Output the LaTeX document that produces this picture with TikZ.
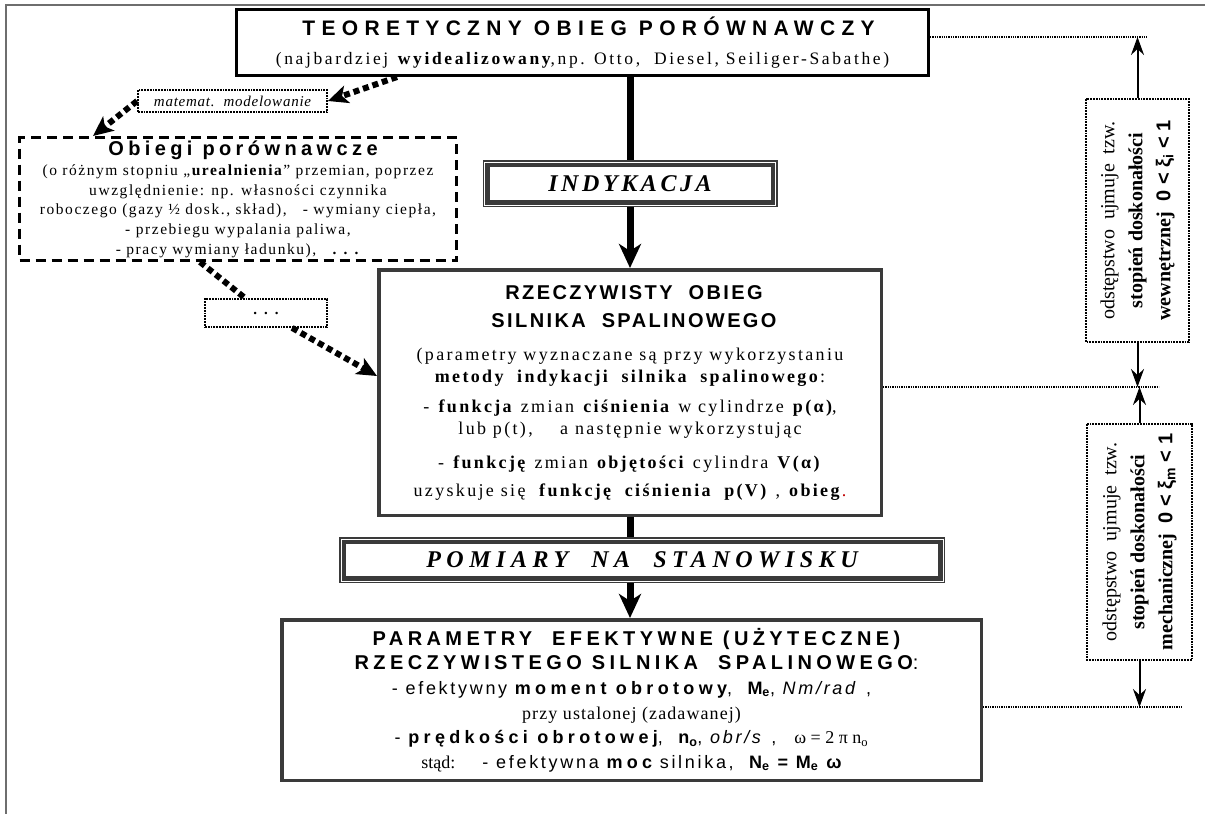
\documentclass[tikz,border=0pt]{standalone}
\usepackage{fontspec}
\setmainfont{Liberation Serif}
\setsansfont{Liberation Sans}
\newfontfamily\spsans[LetterSpace=12]{Liberation Sans}
\newfontfamily\spserif[LetterSpace=10]{Liberation Serif}
\usetikzlibrary{arrows.meta, positioning, calc}
\definecolor{dgray}{HTML}{3A3A3A}
\definecolor{framegray}{HTML}{6E6E6E}
\newcommand{\fsz}[2]{\fontsize{#1}{#2}\selectfont}
\newcommand{\ls}[1]{\addfontfeature{LetterSpace=#1}}

\begin{document}
\begin{tikzpicture}[x=1pt, y=-1pt,
  box/.style={draw=dgray, line width=3.5pt, align=center, inner sep=0pt},
  dashbox/.style={draw, line width=3pt, dash pattern=on 10pt off 6pt, align=center, inner sep=0pt},
  dotbox/.style={draw, line width=1.8pt, densely dotted, align=center, inner sep=0pt},
  band/.style={draw=dgray, line width=7pt, align=center, inner sep=0pt,
               font=\spserif\bfseries\itshape\fsz{24}{26}},
  stem/.style={line width=7pt},
  flow/.style={stem, -{Stealth[length=24pt, width=22pt, inset=7pt]}},
  trail/.style={line width=6pt, dash pattern=on 6pt off 4pt, -{Stealth[length=20pt, width=18pt, inset=5pt]}},
  guide/.style={line width=1.3pt, densely dotted},
  span/.style={line width=2pt, -{Stealth[length=18pt, width=13pt, inset=6pt]}}
]
\useasboundingbox (0,0) rectangle (1205,814);
\draw[framegray, line width=1.5pt] (1205,5) -- (6,5) -- (6,814);

% main column
\node[box, draw=black, line width=3pt, minimum width=692pt, minimum height=66pt,
      font=\fsz{17.5}{29}] (teo) at (582.5,42.5)
  {{\spsans\ls{30}\bfseries\fsz{21}{29} TEORETYCZNY OBIEG PORÓWNAWCZY}\\
   {\spserif\ls{15} (najbardziej \textbf{wyidealizowany},np. Otto,\ \ Diesel, Seiliger-Sabathe)}};
\node[band, minimum width=288pt, minimum height=40pt] (ind) at (630,183.5) {\ls{15}INDYKACJA};
\node[box, minimum width=502.5pt, minimum height=245.5pt, font=\spserif\ls{13}\fsz{18}{22}] (rze) at (630,392.5)
  {{\spsans\ls{12}\bfseries\fsz{20}{22} RZECZYWISTY\ \ OBIEG}\\[6pt]
   {\spsans\ls{12}\bfseries\fsz{20}{22} SILNIKA\ \ SPALINOWEGO}\\[11pt]
   (parametry wyznaczane są przy wykorzystaniu\\
   \textbf{metody\ \ indykacji\ \ silnika\ \ spalinowego}:\\[8pt]
   - \textbf{funkcja} zmian \textbf{ciśnienia} w cylindrze \textbf{p(α)},\\
   lub p(t),\ \ \ \ a następnie wykorzystując\\[12pt]
   - \textbf{funkcję} zmian \textbf{objętości} cylindra \textbf{V(α)}\\[6pt]
   uzyskuje się\ \ \textbf{funkcję\ \ ciśnienia\ \ p(V)} , \textbf{obieg}\textcolor{red!75!black}{.}};
\node[band, minimum width=599pt, minimum height=39pt] (pom) at (642,560) {\ls{23}POMIARY\ \ NA\ \ STANOWISKU};
\node[box, minimum width=699.5pt, minimum height=160.5pt, font=\fsz{18}{24.6}] (par) at (631.5,700)
  {{\spsans\ls{22}\bfseries\fsz{20}{24} PARAMETRY\ \ EFEKTYWNE (UŻYTECZNE)}\\
   {\spsans\ls{22}\bfseries\fsz{20}{24} RZECZYWISTEGO SILNIKA\ \ SPALINOWEGO}{\sffamily\fsz{20}{24}:}\\
   {\spsans\ls{15}- efektywny {\ls{24}\bfseries moment obrotowy},\ \ {\bfseries M\textsubscript{e}}, \textit{Nm/rad} ,}\\
   {\ls{6}przy ustalonej (zadawanej)}\\
   {\spsans\ls{15}- {\ls{24}\bfseries prędkości obrotowej},\ \ {\bfseries n\textsubscript{o}}, \textit{obr/s} ,}\ \ \ \ ω = 2 π n\textsubscript{o}\\
   stąd:\ \ \ \ \ \ {\spsans\ls{15}- efektywna {\ls{24}\bfseries moc} silnika,\ \ {\ls{16}\bfseries N\textsubscript{e} = M\textsubscript{e} ω}}};
\foreach \b in {ind, pom}
  \draw[white, line width=0.9pt] ([shift={(2pt,2pt)}]\b.south west) rectangle ([shift={(-2pt,-2pt)}]\b.north east);

% left branch
\node[dotbox, minimum width=189pt, minimum height=22pt, font=\spserif\ls{5}\itshape\fsz{15}{16}] (mat) at (232.5,101)
  {matemat.\ \ modelowanie};
\node[dashbox, minimum width=437pt, minimum height=123pt, font=\spserif\fsz{15.5}{19.6}] (obi) at (238,199)
  {{\spsans\ls{22}\bfseries\fsz{20}{20} Obiegi porównawcze}\\[1pt]
   (o różnym stopniu „\textbf{urealnienia}” przemian, poprzez\\
   uwzględnienie: np. własności czynnika\\
   roboczego (gazy ½ dosk., skład),\ \ \ - wymiany ciepła,\\
   - przebiegu wypalania paliwa,\\
   - pracy wymiany ładunku),\ \ \ \textbf{. . .}};
\node[dotbox, minimum width=122pt, minimum height=28pt, font=\spserif\bfseries\fsz{15}{16}] (dots) at (266,313) {. . .};

\draw[stem] (ind.north |- teo.south) -- (ind.north);
\draw[flow] (ind.south) -- (rze.north);
\draw[stem] (rze.south) -- (rze.south |- pom.north);
\draw[flow] (rze.south |- pom.south) -- (rze.south |- par.north);

\draw[trail] ([xshift=162pt]teo.south west) -- (mat.east);
\draw[trail] (mat.west) -- ([xshift=75pt]obi.north west);
\draw[trail, -] ([xshift=182pt]obi.south west) -- ([xshift=41pt]dots.north west);
\draw[trail] ([xshift=88pt]dots.south west) -- ([yshift=-108pt]rze.north west);

% right side: degrees of perfection
\node[dotbox, rotate=90, minimum width=243pt, minimum height=103pt, font=\fsz{20}{28}] (ksi1) at (1137.5,220.5)
  {odstępstwo\ \ ujmuje\ \ tzw.\\ \textbf{stopień doskonałości}\\
   \textbf{wewnętrznej}\ \ {\sffamily\bfseries 0 < ξ\textsubscript{i} < 1}};
\node[dotbox, rotate=90, minimum width=236pt, minimum height=105pt, font=\fsz{20}{28}] (ksi2) at (1139.5,542)
  {odstępstwo\ \ ujmuje\ \ tzw.\\ \textbf{stopień doskonałości}\\
   \textbf{mechanicznej}\ \ {\sffamily\bfseries 0 < ξ\textsubscript{m} < 1}};

\coordinate (g1) at (1147,37);
\coordinate (g2) at (1159,387);
\coordinate (g3) at (1183,707);
\draw[guide] (teo.east |- g1) -- (g1);
\draw[guide] (rze.east |- g2) -- (g2);
\draw[guide] (par.east |- g3) -- (g3);
\draw[span] (ksi1.east) -- (ksi1.east |- g1);
\draw[span] (ksi1.west) -- (ksi1.west |- g2);
\draw[span] (ksi2.east) -- (ksi2.east |- g2);
\draw[span] (ksi2.west) -- (ksi2.west |- g3);
\end{tikzpicture}
\end{document}
